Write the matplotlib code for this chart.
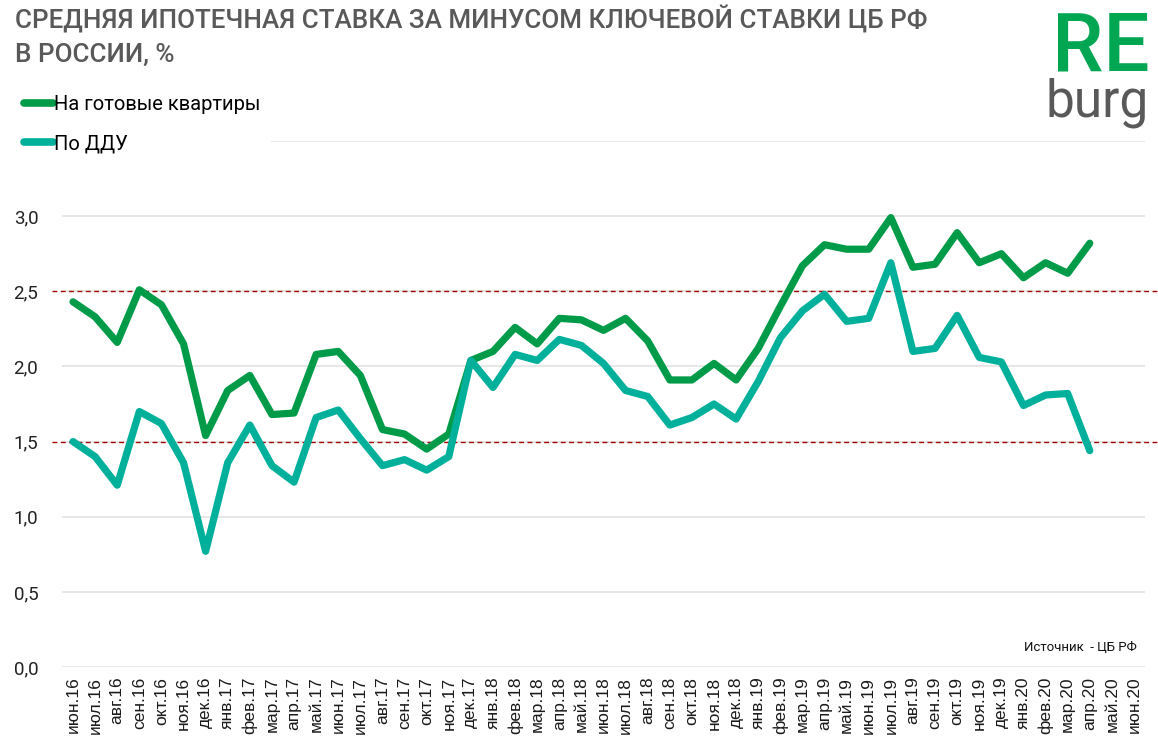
#!/usr/bin/env python3
"""Average mortgage rate minus CBR key rate, Russia, monthly."""

import matplotlib

matplotlib.use("Agg")
import matplotlib.pyplot as plt
from matplotlib.transforms import blended_transform_factory

months = [
    "июн.16", "июл.16", "авг.16", "сен.16", "окт.16", "ноя.16", "дек.16",
    "янв.17", "фев.17", "мар.17", "апр.17", "май.17", "июн.17", "июл.17",
    "авг.17", "сен.17", "окт.17", "ноя.17", "дек.17", "янв.18", "фев.18",
    "мар.18", "апр.18", "май.18", "июн.18", "июл.18", "авг.18", "сен.18",
    "окт.18", "ноя.18", "дек.18", "янв.19", "фев.19", "мар.19", "апр.19",
    "май.19", "июн.19", "июл.19", "авг.19", "сен.19", "окт.19", "ноя.19",
    "дек.19", "янв.20", "фев.20", "мар.20", "апр.20", "май.20", "июн.20",
]

# values end at апр.20, the last two months have no data yet
ready_flats = [
    2.43, 2.33, 2.16, 2.51, 2.41, 2.15, 1.54, 1.84, 1.94, 1.68, 1.69, 2.08,
    2.10, 1.94, 1.58, 1.55, 1.45, 1.55, 2.04, 2.10, 2.26, 2.15, 2.32, 2.31,
    2.24, 2.32, 2.17, 1.91, 1.91, 2.02, 1.91, 2.12, 2.40, 2.67, 2.81, 2.78,
    2.78, 2.99, 2.66, 2.68, 2.89, 2.69, 2.75, 2.59, 2.69, 2.62, 2.82,
]
ddu = [
    1.50, 1.40, 1.21, 1.70, 1.62, 1.36, 0.77, 1.36, 1.61, 1.34, 1.23, 1.66,
    1.71, 1.52, 1.34, 1.38, 1.31, 1.40, 2.04, 1.86, 2.08, 2.04, 2.18, 2.14,
    2.02, 1.84, 1.80, 1.61, 1.66, 1.75, 1.65, 1.90, 2.19, 2.37, 2.48, 2.30,
    2.32, 2.69, 2.10, 2.12, 2.34, 2.06, 2.03, 1.74, 1.81, 1.82, 1.44,
]
y_ticks = [0.0, 0.5, 1.0, 1.5, 2.0, 2.5, 3.0, 3.5]
ref_levels = [1.5, 2.5]

GREEN = "#009b48"
TEAL = "#00b09b"
GREY_TEXT = "#595959"

fig = plt.figure(figsize=(11.58, 7.39), dpi=100)
ax = fig.add_axes([0.0535, 0.0974, 0.9353, 0.7118])

x = list(range(len(months)))
ax.plot(x[: len(ready_flats)], ready_flats, color=GREEN, lw=5.2,
        solid_capstyle="round", solid_joinstyle="round", zorder=3,
        label="На готовые квартиры")
ax.plot(x[: len(ddu)], ddu, color=TEAL, lw=5.2,
        solid_capstyle="round", solid_joinstyle="round", zorder=3,
        label="По ДДУ")

# dashed reference lines run a little past the plot area on both sides
trans = blended_transform_factory(ax.transAxes, ax.transData)
for lvl in ref_levels:
    ax.plot([-0.009, 1.012], [lvl, lvl], transform=trans, clip_on=False,
            color="#a00000", lw=1.0, ls=(0, (3.5, 2.5)), zorder=2)

ax.set_xlim(-0.5, len(months) - 0.5)
ax.set_ylim(0, 3.5)
ax.set_xticks(x)
ax.set_xticklabels(months, rotation=90, family="Liberation Sans",
                   fontsize=12.5, color="#1a1a1a")
ax.set_yticks(y_ticks)
ax.set_yticklabels([f"{v:.1f}".replace(".", ",") if v < 3.5 else ""
                    for v in y_ticks],
                   family="Roboto", fontsize=13.5, color="#222222")
ax.tick_params(axis="both", length=0)
ax.tick_params(axis="x", pad=7)
ax.tick_params(axis="y", pad=17)
ax.grid(axis="y", color="#e3e3e3", lw=1.2, zorder=0)
for s in ax.spines.values():
    s.set_visible(False)

# white legend box also hides the left part of the top grid line
leg = ax.legend(loc="upper left", bbox_to_anchor=(0.011, 0.886),
                bbox_transform=fig.transFigure, frameon=True,
                facecolor="white", edgecolor="none", framealpha=1.0,
                prop={"family": "Roboto", "size": 14.5},
                handlelength=1.45, handletextpad=0.05, labelspacing=1.0,
                borderpad=0.55, borderaxespad=0.0)
leg.set_zorder(10)
for line in leg.get_lines():
    line.set_linewidth(5.5)
    line.set_solid_capstyle("round")

fig.text(0.013, 0.992, "СРЕДНЯЯ ИПОТЕЧНАЯ СТАВКА ЗА МИНУСОМ КЛЮЧЕВОЙ СТАВКИ ЦБ РФ\nВ РОССИИ, %",
         family="Roboto", weight="medium", fontsize=18.7, color=GREY_TEXT,
         va="top", ha="left", linespacing=1.48)

fig.text(0.993, 0.905, "RE", family="Roboto", weight="medium", fontsize=59,
         color="#00a651", ha="right", va="baseline")
fig.text(0.992, 0.843, "burg", family="Roboto", weight="normal", fontsize=37,
         color=GREY_TEXT, ha="right", va="baseline")

fig.text(0.982, 0.119, "Источник  - ЦБ РФ", family="Roboto", fontsize=9.5,
         color="#111111", ha="right", va="baseline")

fig.savefig("out.png", dpi=100)
